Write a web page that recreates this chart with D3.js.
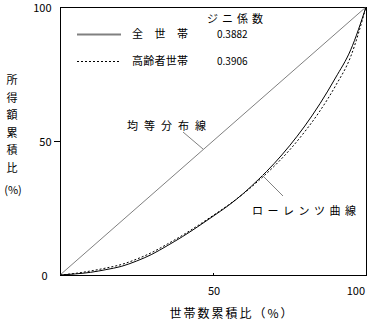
<!DOCTYPE html>
<html>
<head>
<meta charset="utf-8">
<script src="https://cdn.jsdelivr.net/npm/d3@7"></script>
<style>
  html, body { margin: 0; padding: 0; background: #fff; }
  svg text { font-family: "Noto Sans CJK JP", "DejaVu Sans", sans-serif; fill: #000; }
</style>
</head>
<body>
<svg id="chart" width="371" height="323"></svg>
<script>
// Cumulative share of households (%)
const householdShare = [0, 5, 10, 15, 20, 25, 30, 35, 40, 45, 50, 55, 60, 65, 70, 75, 80, 85, 90, 95, 100];
// Cumulative share of income (%) — all households
const incomeAll = [0, 0.4, 1.0, 2.0, 3.2, 5.2, 7.7, 10.9, 14.3, 18.0, 21.9, 25.9, 30.5, 35.8, 41.6, 48.2, 55.6, 64.0, 73.5, 84.0, 100];
// Cumulative share of income (%) — elderly households
const incomeElderly = [0, 0.6, 1.5, 2.6, 3.9, 5.9, 8.4, 11.5, 14.8, 18.4, 22.2, 26.1, 30.4, 35.3, 40.6, 46.6, 53.5, 61.3, 70.5, 81.5, 100];
// Line of perfect equality
const equality = [0, 100];

const seriesNames = ["全　世　帯", "高齢者世帯"];
const giniValues = ["0.3882", "0.3906"];
const xTicks = [50, 100];
const yTicks = [0, 50, 100];

const svg = d3.select("#chart");
const x = d3.scaleLinear().domain([0, 100]).range([60, 366]);
const y = d3.scaleLinear().domain([0, 100]).range([275, 7]);

// frame
svg.append("rect")
  .attr("x", x(0) + 0.5).attr("y", y(100) + 0.5)
  .attr("width", x(100) - x(0)).attr("height", y(0) - y(100))
  .attr("fill", "none").attr("stroke", "#000").attr("stroke-width", 1);

// y axis labels and the outward mark at 50
const yAxis = d3.axisLeft(y).tickValues(yTicks).tickSize(0).tickPadding(9);
const gy = svg.append("g").attr("transform", `translate(${x(0) + 0.5},0.5)`).call(yAxis);
gy.select(".domain").remove();
gy.selectAll("text").attr("font-size", 11).attr("font-family", "DejaVu Sans Mono").attr("dy", "0.35em");
gy.selectAll("text").filter(d => d === 0).attr("dx", -4);
svg.append("line")
  .attr("x1", x(0) - 6).attr("x2", x(0))
  .attr("y1", Math.round(y(50)) + 0.5).attr("y2", Math.round(y(50)) + 0.5)
  .attr("stroke", "#000");

// x axis labels and the small inward mark at 50
const xAxis = d3.axisBottom(x).tickValues(xTicks).tickSize(0).tickPadding(12);
const gx = svg.append("g").attr("transform", `translate(0.5,${y(0) + 0.5})`).call(xAxis);
gx.select(".domain").remove();
gx.selectAll("text").attr("font-size", 11).attr("font-family", "DejaVu Sans Mono");
gx.selectAll("text").filter(d => d === 100).attr("text-anchor", "end").attr("dx", -2);
svg.append("line")
  .attr("x1", Math.round(x(50)) + 0.5).attr("x2", Math.round(x(50)) + 0.5)
  .attr("y1", y(0) - 2).attr("y2", y(0))
  .attr("stroke", "#000");

// equality diagonal
const straight = d3.line().x(d => x(d[0])).y(d => y(d[1]));
svg.append("path")
  .datum(equality.map(v => [v, v]))
  .attr("d", straight).attr("fill", "none").attr("stroke", "#808080").attr("stroke-width", 1);

// Lorenz curves
const curve = d3.line().x(d => x(d[0])).y(d => y(d[1])).curve(d3.curveMonotoneX);
svg.append("path")
  .datum(householdShare.map((v, i) => [v, incomeAll[i]]))
  .attr("d", curve).attr("fill", "none").attr("stroke", "#000").attr("stroke-width", 1);
svg.append("path")
  .datum(householdShare.map((v, i) => [v, incomeElderly[i]]))
  .attr("d", curve).attr("fill", "none").attr("stroke", "#000").attr("stroke-width", 1)
  .attr("stroke-dasharray", "2,2");

// legend
svg.append("text").attr("x", 237).attr("y", 23).attr("font-size", 11)
  .attr("text-anchor", "middle").attr("letter-spacing", "4px").text("ジニ係数");
const legendY = [34, 61];
const styles = [{ stroke: "#808080", dash: null, w: 2 }, { stroke: "#000", dash: "2,2", w: 1 }];
seriesNames.forEach((name, i) => {
  svg.append("line")
    .attr("x1", 77).attr("x2", 121).attr("y1", legendY[i] + 0.5).attr("y2", legendY[i] + 0.5)
    .attr("stroke", styles[i].stroke).attr("stroke-width", styles[i].w)
    .attr("stroke-dasharray", styles[i].dash);
  svg.append("text").attr("x", 132).attr("y", legendY[i] + 4).attr("font-size", 11)
    .attr("textLength", 56).attr("lengthAdjust", "spacing").text(name);
  svg.append("text").attr("x", 217).attr("y", legendY[i] + 4).attr("font-size", 10)
    .attr("font-family", "DejaVu Sans Mono").text(giniValues[i]);
});

// annotations with leader lines
svg.append("text").attr("x", 127).attr("y", 130).attr("font-size", 11)
  .attr("letter-spacing", "6px").text("均等分布線");
svg.append("line").attr("x1", 183).attr("y1", 132).attr("x2", 203).attr("y2", 149)
  .attr("stroke", "#808080");
svg.append("text").attr("x", 252).attr("y", 215).attr("font-size", 11)
  .attr("letter-spacing", "4.5px").text("ローレンツ曲線");
svg.append("line").attr("x1", 262).attr("y1", 175).attr("x2", 283).attr("y2", 196)
  .attr("stroke", "#808080");

// axis titles
svg.append("text").attr("x", 232).attr("y", 318).attr("font-size", 12)
  .attr("text-anchor", "middle").attr("letter-spacing", "2px").text("世帯数累積比（%）");
const yTitle = ["所", "得", "額", "累", "積", "比"];
yTitle.forEach((c, i) => {
  svg.append("text").attr("x", 12).attr("y", 84 + i * 17.5).attr("font-size", 11)
    .attr("text-anchor", "middle").text(c);
});
svg.append("text").attr("x", 13).attr("y", 194).attr("font-size", 11)
  .attr("text-anchor", "middle").text("(%)");
</script>
</body>
</html>
